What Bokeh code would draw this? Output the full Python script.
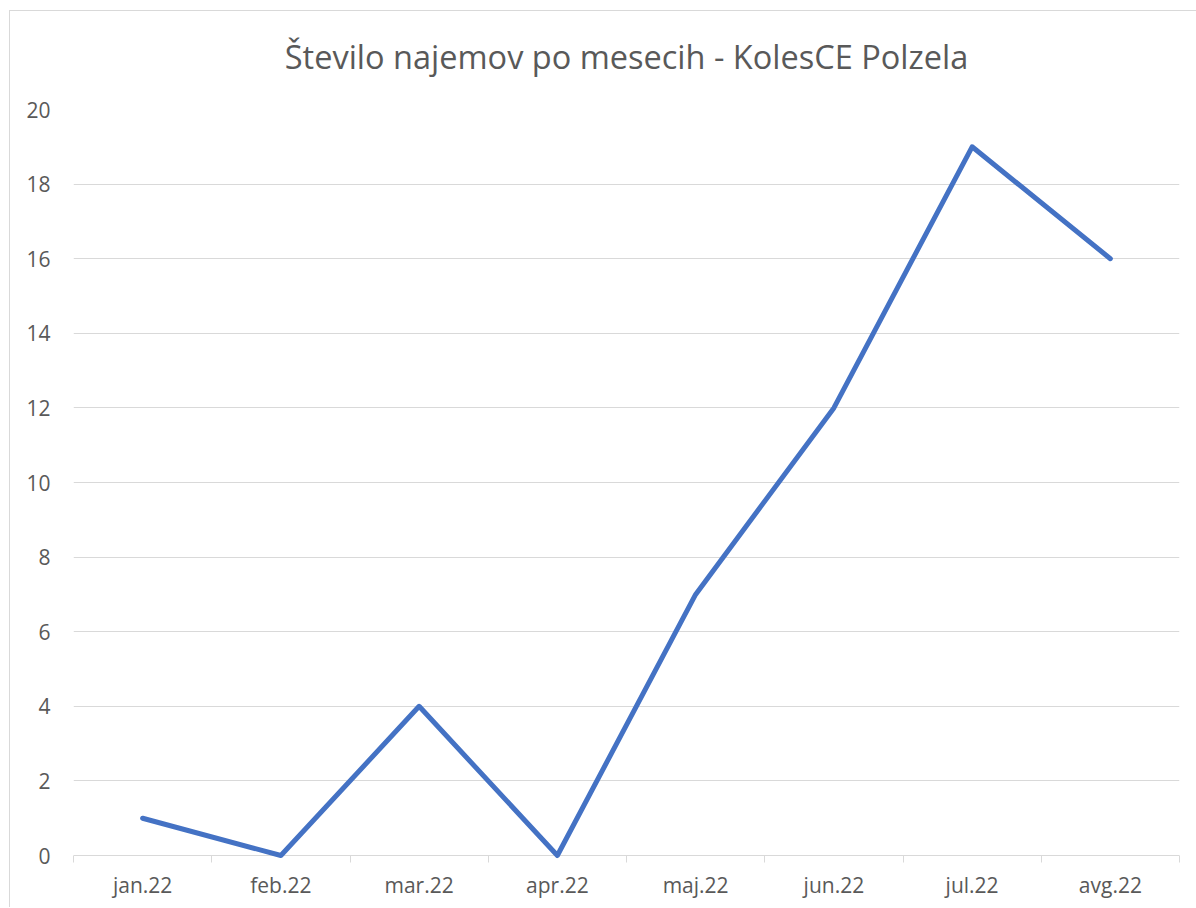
from bokeh.plotting import figure
from bokeh.models import FixedTicker, Range1d, LinearAxis, Title
from bokeh.embed import file_html
from bokeh.resources import INLINE

title_text = "Število najemov po mesecih - KolesCE Polzela"
months = ["jan.22", "feb.22", "mar.22", "apr.22", "maj.22", "jun.22", "jul.22", "avg.22"]
rentals = [1, 0, 4, 0, 7, 12, 19, 16]
y_ticks = [0, 2, 4, 6, 8, 10, 12, 14, 16, 18, 20]

x = list(range(len(months)))
FONT = "Open Sans"
GREY = "#595959"
GRID = "#d9d9d9"

p = figure(frame_width=1106, frame_height=749, output_backend="svg", toolbar_location=None,
           x_range=Range1d(-0.5, len(months) - 0.5),
           y_range=Range1d(-0.08, y_ticks[-1]),
           min_border_left=63, min_border_right=17, min_border_top=98, min_border_bottom=49)
p.styles = {"margin-left": "9px", "margin-top": "10px",
            "border-left": "1px solid #d9d9d9", "border-top": "1px solid #d9d9d9"}

p.line(x, rentals, line_color="#4472C4", line_width=5, line_cap="round", line_join="round")

p.outline_line_color = None

# invisible spacer between the plot frame and the title
spacer = LinearAxis(ticker=FixedTicker(ticks=[0]), major_label_overrides={0: ""})
spacer.axis_line_color = None
spacer.major_tick_line_color = None
spacer.minor_tick_line_color = None
spacer.major_tick_in = 0
spacer.major_tick_out = 30
spacer.minor_tick_out = 0
spacer.major_label_standoff = 0
spacer.major_label_text_alpha = 0
p.add_layout(spacer, "above")

chart_title = Title(text=title_text, align="center", text_font=FONT, text_font_style="normal",
                    text_font_size="32.5px", text_color=GREY, standoff=2)
p.add_layout(chart_title, "above")

# y axis
p.yaxis.ticker = FixedTicker(ticks=y_ticks)
p.yaxis.axis_line_color = None
p.yaxis.major_tick_line_color = None
p.yaxis.minor_tick_line_color = None
p.yaxis.major_label_text_font = FONT
p.yaxis.major_label_text_font_size = "21px"
p.yaxis.major_label_text_color = GREY
p.yaxis.major_label_standoff = 17

# x axis: labels at category centres, ticks at boundaries
xaxis = p.below[0]
bounds = [i - 0.5 for i in range(len(months) + 1)]
xaxis.ticker = FixedTicker(ticks=x, minor_ticks=bounds)
xaxis.major_label_overrides = {i: m for i, m in zip(x, months)}
xaxis.axis_line_color = None
xaxis.major_tick_line_color = None
xaxis.minor_tick_line_color = GRID
xaxis.minor_tick_in = 3
xaxis.minor_tick_out = 4
xaxis.major_label_text_font = FONT
xaxis.major_label_text_font_size = "21px"
xaxis.major_label_text_color = GREY
xaxis.major_label_standoff = 6

p.xgrid.grid_line_color = None
p.ygrid.ticker = FixedTicker(ticks=y_ticks)
p.ygrid.grid_line_color = GRID
p.ygrid.grid_line_width = 1

open("out.html", "w").write(file_html(p, INLINE))
